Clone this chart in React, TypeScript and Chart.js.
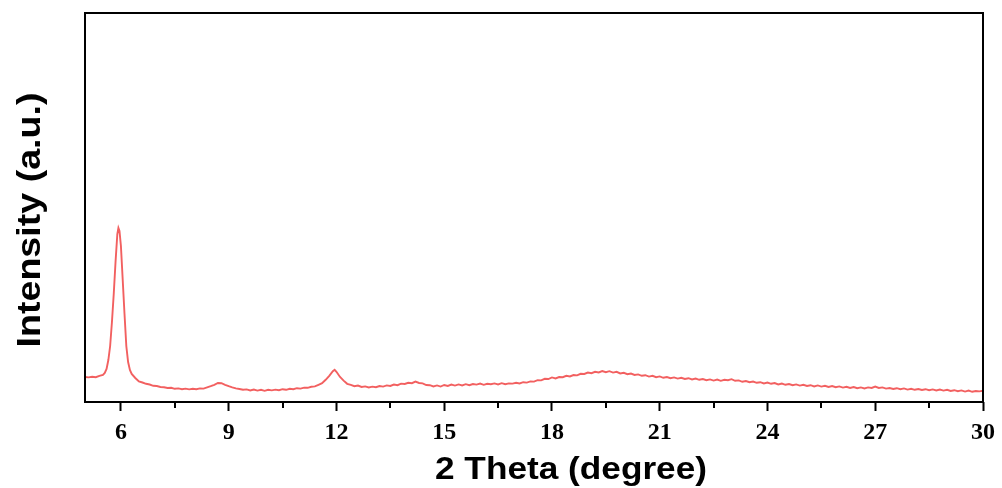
import { useEffect, useRef } from "react";
import { Chart, registerables } from "chart.js";

Chart.register(...registerables);

const twoTheta = [
  5.0, 5.1, 5.2, 5.3, 5.4, 5.5, 5.55, 5.6, 5.65, 5.7, 5.75, 5.8, 5.85, 5.9, 5.93,
  5.96, 6.0, 6.05, 6.1, 6.15, 6.2, 6.25, 6.3, 6.4,
  6.5, 6.6, 6.7, 6.8, 6.9, 7.0, 7.1, 7.2, 7.3, 7.4, 7.5, 7.6, 7.7, 7.8, 7.9,
  8.0, 8.1, 8.2, 8.3, 8.4, 8.5, 8.6, 8.7, 8.8, 8.9, 9.0, 9.1, 9.2, 9.3, 9.4,
  9.5, 9.6, 9.7, 9.8, 9.9, 10.0, 10.1, 10.2, 10.3, 10.4, 10.5, 10.6, 10.7, 10.8,
  10.9, 11.0, 11.1, 11.2, 11.3, 11.4, 11.5, 11.6, 11.7, 11.8, 11.9, 11.95, 12.0,
  12.1, 12.2, 12.3, 12.4, 12.5, 12.6, 12.7, 12.8, 12.9, 13.0, 13.1, 13.2, 13.3,
  13.4, 13.5, 13.6, 13.7, 13.8, 13.9, 14.0, 14.1, 14.2, 14.3, 14.4, 14.5, 14.6,
  14.7, 14.8, 14.9, 15.0, 15.1, 15.2, 15.3, 15.4, 15.5, 15.6, 15.7, 15.8, 15.9,
  16.0, 16.1, 16.2, 16.3, 16.4, 16.5, 16.6, 16.7, 16.8, 16.9, 17.0, 17.1, 17.2,
  17.3, 17.4, 17.5, 17.6, 17.7, 17.8, 17.9, 18.0, 18.1, 18.2, 18.3, 18.4, 18.5,
  18.6, 18.7, 18.8, 18.9, 19.0, 19.1, 19.2, 19.3, 19.4, 19.5, 19.6, 19.7, 19.8,
  19.9, 20.0, 20.1, 20.2, 20.3, 20.4, 20.5, 20.6, 20.7, 20.8, 20.9, 21.0, 21.1,
  21.2, 21.3, 21.4, 21.5, 21.6, 21.7, 21.8, 21.9, 22.0, 22.1, 22.2, 22.3, 22.4,
  22.5, 22.6, 22.7, 22.8, 22.9, 23.0, 23.1, 23.2, 23.3, 23.4, 23.5, 23.6, 23.7,
  23.8, 23.9, 24.0, 24.1, 24.2, 24.3, 24.4, 24.5, 24.6, 24.7, 24.8, 24.9, 25.0,
  25.1, 25.2, 25.3, 25.4, 25.5, 25.6, 25.7, 25.8, 25.9, 26.0, 26.1, 26.2, 26.3,
  26.4, 26.5, 26.6, 26.7, 26.8, 26.9, 27.0, 27.1, 27.2, 27.3, 27.4, 27.5, 27.6,
  27.7, 27.8, 27.9, 28.0, 28.1, 28.2, 28.3, 28.4, 28.5, 28.6, 28.7, 28.8, 28.9,
  29.0, 29.1, 29.2, 29.3, 29.4, 29.5, 29.6, 29.7, 29.8, 29.9, 30.0,
];

const intensity = [
  250, 246, 252, 248, 262, 270, 290, 330, 420, 560, 800, 1080, 1400, 1680, 1740,
  1710, 1560, 1220, 880, 560, 400, 320, 280, 240,
  205, 195, 182, 175, 162, 160, 150, 148, 140, 142, 132, 136, 128, 134, 126,
  132, 128, 136, 134, 146, 158, 172, 190, 188, 172, 158, 146, 136, 130, 122,
  126, 116, 124, 114, 122, 112, 122, 116, 124, 118, 128, 122, 132, 128,
  138, 134, 144, 142, 152, 156, 172, 188, 222, 262, 308, 322, 302,
  250, 214, 182, 172, 158, 164, 150, 156, 146, 154, 148, 160, 154,
  166, 160, 174, 168, 184, 180, 192, 188, 204, 190, 186, 170, 168,
  156, 166, 154, 170, 160, 174, 164, 176, 166, 178, 168, 180, 174,
  184, 172, 182, 178, 186, 176, 188, 178, 186, 184, 192, 186, 198,
  194, 206, 204, 218, 216, 232, 230, 246, 236, 250, 248, 262, 256,
  270, 266, 282, 280, 294, 288, 302, 296, 310, 298, 308, 294, 302,
  286, 292, 278, 284, 270, 276, 262, 268, 254, 262, 248, 256, 242,
  250, 238, 246, 234, 242, 230, 238, 226, 234, 222, 230, 218, 226,
  214, 224, 212, 222, 218, 228, 212, 216, 202, 210, 198, 204, 192,
  198, 186, 194, 182, 190, 176, 184, 172, 180, 168, 176, 164, 172,
  160, 168, 156, 166, 154, 162, 150, 160, 148, 156, 144, 152, 140,
  150, 138, 146, 136, 146, 140, 154, 140, 146, 134, 140, 130, 138,
  128, 136, 124, 132, 122, 130, 120, 128, 118, 126, 116, 124, 114,
  122, 110, 118, 108, 116, 104, 114, 102, 110, 106, 112,
];

const majorTicks = [6, 9, 12, 15, 18, 21, 24, 27, 30];
const minorTicks = [7.5, 10.5, 13.5, 16.5, 19.5, 22.5, 25.5, 28.5];
const xTitle = "2 Theta (degree)";
const yTitle = "Intensity (a.u.)";

export default function App() {
  const ref = useRef<HTMLCanvasElement>(null);

  useEffect(() => {
    document.body.style.margin = "0";
    const canvas = ref.current;
    if (!canvas) return;

    const framePlugin = {
      id: "framePlugin",
      afterDraw(chart: any) {
        const { ctx, chartArea } = chart;
        const xs = chart.scales.x;
        ctx.save();
        ctx.strokeStyle = "#000";
        ctx.lineWidth = 2;
        ctx.strokeRect(
          chartArea.left,
          chartArea.top,
          chartArea.right - chartArea.left,
          chartArea.bottom - chartArea.top
        );
        ctx.beginPath();
        for (const v of minorTicks) {
          const px = Math.round(xs.getPixelForValue(v));
          ctx.moveTo(px, chartArea.bottom);
          ctx.lineTo(px, chartArea.bottom + 6);
        }
        ctx.stroke();

        ctx.fillStyle = "#000";
        ctx.textAlign = "center";
        ctx.textBaseline = "alphabetic";
        ctx.font = "bold 32px 'Liberation Sans', Arial, sans-serif";
        const wx = ctx.measureText(xTitle).width;
        ctx.save();
        ctx.translate(571, 479);
        ctx.scale(272 / wx, 1);
        ctx.fillText(xTitle, 0, 0);
        ctx.restore();

        ctx.font = "bold 33px 'Liberation Sans', Arial, sans-serif";
        const wy = ctx.measureText(yTitle).width;
        ctx.save();
        ctx.translate(40, 220);
        ctx.rotate(-Math.PI / 2);
        ctx.scale(255 / wy, 1);
        ctx.fillText(yTitle, 0, 0);
        ctx.restore();
        ctx.restore();
      },
    };

    const chart = new Chart(canvas, {
      type: "line",
      data: {
        datasets: [
          {
            data: twoTheta.map((x, i) => ({ x, y: intensity[i] })),
            borderColor: "rgb(242,96,96)",
            borderWidth: 1.9,
            pointRadius: 0,
            tension: 0,
            fill: false,
          },
        ],
      },
      options: {
        animation: false,
        responsive: false,
        layout: { padding: { top: 13, right: 17, left: 0, bottom: 0 } },
        plugins: {
          legend: { display: false },
          tooltip: { enabled: false },
        },
        scales: {
          x: {
            type: "linear",
            min: 5,
            max: 30,
            afterBuildTicks: (s: any) => {
              s.ticks = majorTicks.map((v) => ({ value: v }));
            },
            afterFit: (s: any) => {
              s.height = 86;
            },
            grid: {
              drawOnChartArea: false,
              drawTicks: true,
              tickLength: 9,
              tickWidth: 2,
              tickColor: "#000",
            },
            border: { display: false },
            ticks: {
              color: "#000",
              padding: 7,
              autoSkip: false,
              maxRotation: 0,
              font: {
                family: "'Liberation Serif', 'Times New Roman', serif",
                weight: "bold",
                size: 24,
              },
            },
          },
          y: {
            min: 0,
            max: 3890,
            ticks: { display: false },
            grid: { display: false },
            border: { display: false },
            afterFit: (s: any) => {
              s.width = 85;
            },
          },
        },
      },
      plugins: [framePlugin],
    });

    return () => chart.destroy();
  }, []);

  return (
    <div style={{ width: 1002, height: 488 }}>
      <canvas ref={ref} width={1002} height={488} style={{ display: "block" }} />
    </div>
  );
}
